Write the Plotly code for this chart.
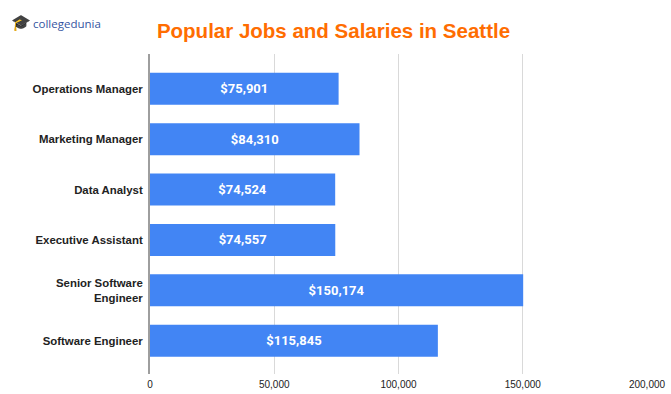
import plotly.graph_objects as go

jobs = ["Operations Manager", "Marketing Manager", "Data Analyst",
        "Executive Assistant", "Senior Software<br>Engineer", "Software Engineer"]
salaries = [75901, 84310, 74524, 74557, 150174, 115845]
labels = ["$75,901", "$84,310", "$74,524", "$74,557", "$150,174", "$115,845"]
tick_vals = [0, 50000, 100000, 150000, 200000]
tick_text = ["0", "50,000", "100,000", "150,000", "200,000"]

fig = go.Figure(go.Bar(
    x=salaries, y=jobs, orientation="h",
    marker=dict(color="#4285F4", line=dict(width=0)),
    width=0.635,
    text=labels, textposition="inside", insidetextanchor="middle",
    textfont=dict(family="Roboto, Arial, sans-serif", size=13, color="white", weight="bold"),
    cliponaxis=False,
))

fig.update_layout(
    width=671, height=394,
    margin=dict(l=150, r=24, t=54, b=20),
    paper_bgcolor="white", plot_bgcolor="white",
    title=dict(text="<b>Popular Jobs and Salaries in Seattle</b>",
               x=0.497, xanchor="center", y=0.921, yanchor="middle",
               font=dict(family="Liberation Sans, Arial, sans-serif", size=20.5, color="#FF6D01")),
    showlegend=False,
    bargap=0.3,
)
fig.update_xaxes(range=[0, 200000], tickvals=tick_vals, ticktext=tick_text,
                 showgrid=True, gridcolor="#D9D9D9", gridwidth=1,
                 zeroline=False, showline=False, ticks="", automargin=False,
                 tickfont=dict(family="Liberation Sans, Arial, sans-serif", size=10, color="#222222"),
                 ticklabelstandoff=3)
fig.update_yaxes(categoryorder="array", categoryarray=jobs, range=[5.66, -0.69],
                 showline=True, linecolor="#9E9E9E", linewidth=2, showgrid=False,
                 ticks="", ticklabelstandoff=3, automargin=False,
                 tickfont=dict(family="Liberation Sans, Arial, sans-serif", size=11.4, color="#222222", weight="bold"))

fig.add_annotation(text="collegedunia", xref="paper", yref="paper", x=-0.24, y=1.094,
                   xanchor="left", yanchor="middle", showarrow=False,
                   font=dict(family="Open Sans, Arial, sans-serif", size=11.5, color="#34549F"))
fig.add_annotation(text="🎓", xref="paper", yref="paper", x=-0.283, y=1.1,
                   xanchor="left", yanchor="middle", showarrow=False,
                   font=dict(size=16, color="#333333"))

fig.write_html("out.html")
